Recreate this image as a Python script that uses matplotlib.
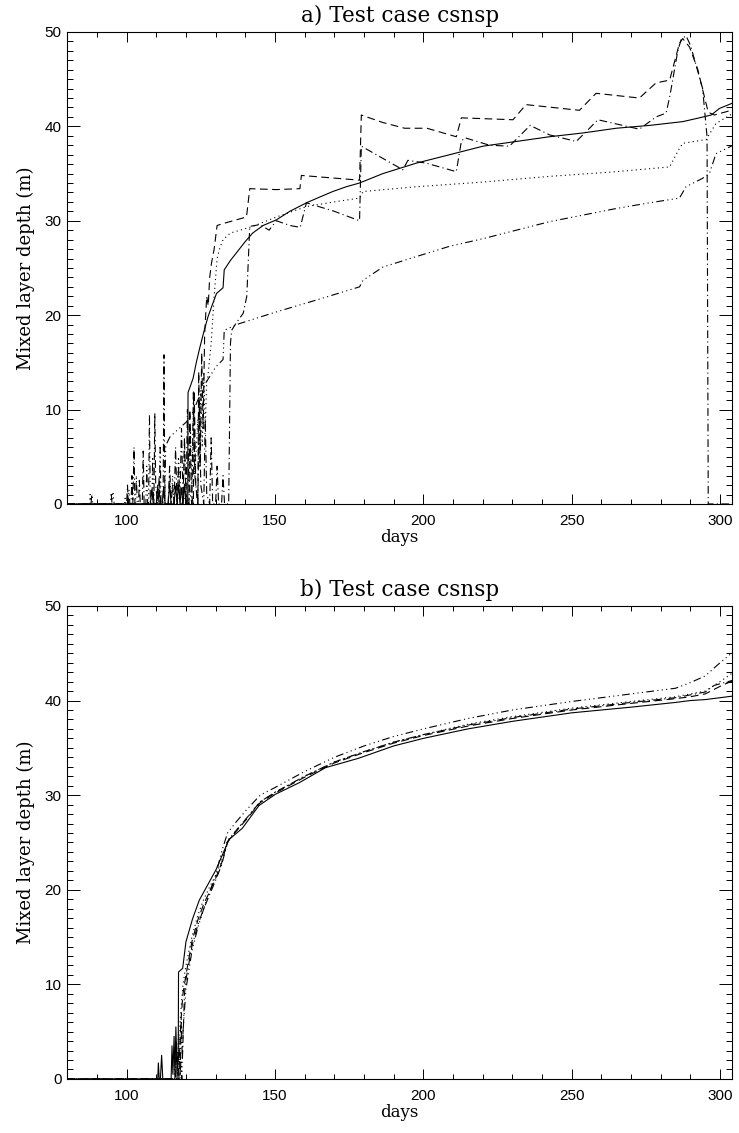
import numpy as np
import matplotlib.pyplot as plt
from matplotlib.ticker import MultipleLocator

# (day, mixed layer depth in m), panel a
solid_a = [(80, 0), (108, 0), (108.5, 1.5), (109, 0), (110, 0), (110.5, 2.0), (111, 0), (112, 0),
           (112.5, 1.8), (113, 0), (114, 0), (114.5, 2.2), (115, 0), (116, 0), (116.5, 1.9), (117, 0.3),
           (117.5, 2.0), (118, 0), (118.5, 1.7), (119, 0), (119.5, 2.1), (120, 0), (120.6, 0),
           (120.7, 11.8), (121.5, 12.5), (122.4, 13.3), (123.5, 15.0), (124.7, 16.6), (126, 18.2),
           (127.4, 19.8), (129, 21.2), (130.3, 22.3), (132.5, 22.9), (132.9, 24.8), (135, 25.8),
           (137, 26.6), (140, 27.8), (142.5, 28.7), (146, 29.5), (150.5, 30.1), (155, 31.0),
           (160.6, 31.9), (165, 32.5), (169.5, 33.1), (174, 33.6), (178.5, 34.0), (186.4, 35.0),
           (197.6, 36.1), (208.9, 37.0), (220.1, 37.9), (231.3, 38.4), (242.5, 38.9), (253.8, 39.3),
           (265, 39.8), (276.2, 40.1), (287.4, 40.5), (293, 40.9), (297, 41.2), (299.8, 41.9),
           (303.7, 42.4), (305, 42.6)]

dotted_a = [(80, 0), (87.5, 0), (87.7, 1.0), (88, 0), (95, 0), (95.4, 1.3), (95.8, 0), (99.3, 0),
            (99.5, 0.6), (99.8, 0), (115, 0), (115.5, 3), (116, 0), (117, 0), (117.5, 5), (118, 0.5),
            (119, 0), (119.5, 6), (120, 1), (121, 0), (121.5, 8), (122, 2), (122.5, 10), (123, 3),
            (124, 9), (124.5, 4), (125, 12), (125.5, 6), (126, 14), (126.5, 8), (127, 13),
            (127.4, 13.5), (128, 15.5), (128.5, 17), (129, 19.5), (129.5, 22), (130.5, 26),
            (131.4, 27.1), (132.5, 28.0), (135, 28.7), (142.5, 29.4), (150.5, 30.4), (160.6, 31.5),
            (170, 32.0), (178.5, 32.4), (179.7, 33.1), (197.6, 33.6), (220.1, 34.1), (242.5, 34.7),
            (265, 35.2), (283, 35.7), (286, 37.5), (287.4, 38.2), (295.3, 38.6), (298.6, 40.3),
            (305, 41.5)]

dashed_a = [(80, 0), (115, 0), (115.5, 2), (116, 0), (117, 0), (117.5, 4), (118, 0), (119, 0),
            (119.5, 7), (120, 1), (121, 0), (121.3, 10), (121.8, 1), (122.5, 0), (122.8, 12),
            (123.3, 2), (124, 0), (124.3, 14), (124.8, 4), (125.3, 16), (125.8, 8), (126.3, 18),
            (127, 22), (127.5, 21), (128, 24), (128.6, 25.5), (129.5, 27), (130.5, 29.5), (132.5, 29.7),
            (140.4, 30.4), (141.5, 33.4), (150.5, 33.3), (158.4, 33.4), (158.9, 34.8), (178.5, 34.3),
            (179.1, 41.2), (186.4, 40.4), (193.7, 39.8), (201.2, 39.8), (211.1, 38.9), (212.8, 40.9),
            (230.2, 40.7), (234.6, 42.3), (252.6, 41.7), (258.2, 43.5), (272.8, 43.0), (278.4, 44.6),
            (283, 44.9), (286.3, 48.8), (287.4, 49.3), (289.7, 48.4), (292.5, 46.0), (294.1, 43.9),
            (296, 41.5), (298, 41.2), (305, 41.8)]

dashdot_a = [(80, 0), (100, 0), (100.3, 2), (100.6, 0), (101.5, 0), (101.8, 3), (102.1, 0), (102.5, 6),
             (102.8, 0), (104, 0), (104.3, 2.5), (104.6, 0), (105.3, 0), (105.6, 5.6), (105.9, 0),
             (109.2, 0), (109.5, 9.6), (109.8, 2), (110.5, 0), (111, 3), (111.5, 0), (112.3, 0),
             (112.6, 15.8), (112.9, 0), (114, 0), (114.5, 4), (115, 0), (116, 0), (116.5, 6), (117, 0),
             (118, 1), (118.5, 8), (119, 1), (120, 0), (120.5, 10), (121, 2), (122, 0), (122.5, 12),
             (123, 3), (124, 0), (124.5, 11), (125, 2), (126, 0), (126.5, 9), (127, 1), (128, 0),
             (128.5, 7), (129, 0), (130, 0), (130.5, 4), (131, 0), (132, 0), (132.5, 3), (133, 0),
             (134.4, 0), (135, 17), (135.4, 18.4), (137, 19.2), (139.3, 20.2), (140.5, 22),
             (141.5, 29.4), (145, 29.6), (148, 29.0), (150.5, 30.0), (155, 29.5), (158.5, 29.3),
             (160.6, 31.9), (170, 31.0), (178.5, 30.0), (179.1, 37.9), (193.1, 35.4), (194.8, 36.4),
             (201, 36.1), (211.1, 35.2), (212.8, 38.4), (213.9, 38.8), (222.3, 38.0), (229, 37.9),
             (236, 40.1), (242.5, 39.1), (251.5, 38.4), (256, 39.8), (258.8, 40.7), (272.8, 39.7),
             (278.4, 41.0), (281.8, 41.4), (283, 43.1), (285.8, 48.1), (286.9, 49.2), (288.5, 49.6),
             (290, 48.6), (292.5, 45.8), (294.1, 44.0), (295.6, 38.9), (296, 0), (305, 0)]

dashdot3_a = [(80, 0), (88, 0), (88.3, 1), (88.6, 0), (94.5, 0), (94.8, 1.2), (95.1, 0), (100.5, 0),
              (100.8, 1.5), (101.1, 0), (103, 0), (103.3, 3), (103.6, 0), (106.5, 0), (106.8, 4),
              (107.1, 0), (107.4, 0), (107.7, 9.5), (108, 0), (108.5, 0), (108.8, 5), (109.1, 0),
              (111, 0), (111.3, 6), (111.6, 0), (112.8, 0), (113.2, 6.2), (114.6, 7.1), (117, 7.8),
              (120.2, 8.7), (122, 9.5), (124, 11), (126, 12.5), (128.6, 13.8), (130, 14.5),
              (132.5, 15.3), (132.9, 18.4), (137, 19.0), (150, 20.3), (165, 21.7), (178.5, 23.0),
              (179.7, 23.7), (186.4, 25.1), (197.6, 26.2), (208.9, 27.3), (220.1, 28.1), (231.3, 29.0),
              (242.5, 29.9), (253.8, 30.6), (265, 31.3), (276.2, 31.9), (286.3, 32.4), (288.5, 33.6),
              (294.1, 34.5), (296.4, 35.0), (298.6, 37.1), (305, 38.1)]

# panel b
solid_b = [(80, 0), (110.5, 0), (110.7, 1.7), (111, 0), (111.4, 0), (111.8, 2.5), (112.2, 0), (115, 0),
           (115.3, 3.5), (115.6, 0.5), (116, 4.5), (116.3, 0), (116.6, 5.5), (117, 1), (117.4, 2),
           (117.5, 11.3), (118.9, 11.7), (120, 14.5), (122.2, 16.9), (124.5, 18.9), (127.3, 20.5),
           (130.1, 22.1), (132.3, 23.7), (134.5, 25.3), (139, 26.5), (144.6, 28.9), (150.2, 30.1),
           (158.1, 31.3), (167, 32.9), (178.2, 33.9), (190, 35.2), (200, 36.0), (215, 37.0),
           (230, 37.8), (250, 38.7), (270, 39.3), (285, 39.8), (290, 40.0), (295, 40.1), (300, 40.3),
           (305, 40.5)]

dotted_b = [(80, 0), (116, 0), (116.3, 3), (116.6, 0), (117.2, 0), (117.5, 5), (117.8, 1), (118, 6),
            (119, 10), (120, 12), (122, 15), (124, 17.3), (126, 19), (128, 20.3), (130, 21.5),
            (132, 23), (134, 25.2), (137, 26.3), (140, 27.4), (145, 29.3), (150, 30.3), (160, 32.0),
            (170, 33.5), (180, 34.6), (190, 35.6), (200, 36.4), (215, 37.5), (230, 38.3), (250, 39.2),
            (270, 39.9), (285, 40.4), (290, 40.7), (295, 41.0), (300, 42.0), (305, 43.1)]

dashed_b = [(80, 0), (116.5, 0), (116.8, 4), (117.1, 0), (117.6, 0), (118, 4), (118.5, 7), (119, 9),
            (120, 11), (122, 14.5), (124, 16.8), (126, 18.5), (128, 19.8), (130, 21.2), (132, 22.8),
            (134, 25.1), (137, 26.2), (140, 27.3), (145, 29.2), (150, 30.2), (160, 31.9), (170, 33.4),
            (180, 34.5), (190, 35.5), (200, 36.3), (215, 37.3), (230, 38.1), (250, 39.0), (270, 39.7),
            (285, 40.2), (290, 40.4), (295, 40.7), (300, 41.5), (305, 42.2)]

dashdot_b = [(80, 0), (117, 0), (117.3, 3), (117.6, 0), (118, 0), (118.4, 6), (118.8, 2), (119.5, 9),
             (120, 10.5), (122, 14), (124, 16.3), (126, 18), (128, 19.5), (130, 21), (132, 22.6),
             (134, 25.0), (137, 26.3), (140, 27.4), (145, 29.3), (150, 30.3), (160, 32.0), (170, 33.5),
             (180, 34.6), (190, 35.6), (200, 36.4), (215, 37.4), (230, 38.2), (250, 39.1), (270, 39.8),
             (285, 40.3), (290, 40.6), (295, 40.9), (298, 41.6), (305, 42.2)]

dashdot3_b = [(80, 0), (118, 0), (118.3, 2), (118.6, 0), (119, 5), (120, 9.5), (122, 13.5), (124, 16),
              (126, 18), (128, 19.8), (130, 21.5), (132, 24.0), (134, 26.0), (137, 27.2), (140, 28.3),
              (145, 30.0), (150, 30.8), (160, 32.5), (170, 34.0), (180, 35.2), (190, 36.2), (200, 37.0),
              (215, 38.1), (230, 39.0), (250, 39.9), (270, 40.7), (285, 41.3), (290, 41.9), (295, 42.6),
              (300, 44.0), (305, 45.3)]

titles = ['a) Test case csnsp', 'b) Test case csnsp']

styles = ['-', (0, (1, 3)), (0, (7, 4)), (0, (7, 3, 1, 3)), (0, (7, 3, 1, 3, 1, 3, 1, 3))]
panels = [[solid_a, dotted_a, dashed_a, dashdot_a, dashdot3_a],
          [solid_b, dotted_b, dashed_b, dashdot_b, dashdot3_b]]

fig = plt.figure(figsize=(7.39, 11.33), dpi=100)
boxes = [[0.091, 0.5552, 0.8995, 0.4166], [0.091, 0.0477, 0.8995, 0.4175]]

for box, series, title in zip(boxes, panels, titles):
    ax = fig.add_axes(box)
    for data, ls in zip(series, styles):
        arr = np.array(data)
        ax.plot(arr[:, 0], arr[:, 1], color='black', lw=0.8, linestyle=ls)
    ax.set_xlim(80, 304)
    ax.set_ylim(0, 50)
    ax.xaxis.set_major_locator(MultipleLocator(50))
    ax.xaxis.set_minor_locator(MultipleLocator(10))
    ax.yaxis.set_major_locator(MultipleLocator(10))
    ax.yaxis.set_minor_locator(MultipleLocator(1))
    ax.tick_params(which='both', direction='in', top=True, right=True, width=0.7, colors='black')
    ax.tick_params(axis='x', which='major', length=7, pad=7)
    ax.tick_params(axis='x', which='minor', length=3.5)
    ax.tick_params(axis='y', which='major', length=9.5, pad=4)
    ax.tick_params(axis='y', which='minor', length=4.5)
    for lab in ax.get_xticklabels() + ax.get_yticklabels():
        lab.set_fontfamily('Liberation Sans')
        lab.set_fontsize(11)
    for sp in ax.spines.values():
        sp.set_linewidth(0.8)
    ax.set_title(title, family='DejaVu Serif', fontsize=15.5, pad=7)
    ax.set_xlabel('days', family='DejaVu Serif', fontsize=12, labelpad=1)
    ax.set_ylabel('Mixed layer depth (m)', family='DejaVu Serif', fontsize=13, labelpad=7)

plt.savefig('out.png', dpi=100)
